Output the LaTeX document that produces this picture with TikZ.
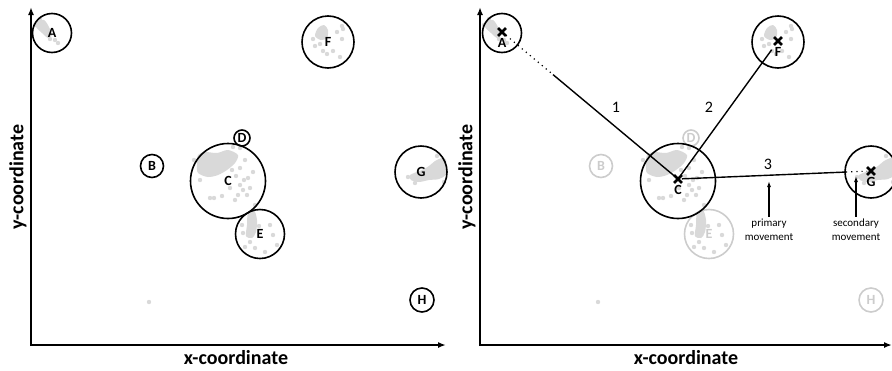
\documentclass[tikz,border=0pt]{standalone}
\usepackage{fontspec}
\setmainfont{Carlito}
\usetikzlibrary{arrows.meta, positioning, calc, shapes.misc}

% gray sample points, same in both panels
\newcommand{\specks}{%
  \fill[speck] plot[smooth cycle] coordinates {(37,22) (44,20) (49,27) (52,35) (48,38) (42,33) (36,27)};
  \foreach \p in {(55,40),(58,43),(50,39),(40,19),(35,25)} \fill[speck] \p circle (2.2);
  \fill[speck] plot[smooth cycle] coordinates {(198,155) (205,152) (217,153) (228,150) (238,155) (235,163) (227,170) (218,175) (208,177) (198,173) (197,165)};
  \foreach \p in {(240,148),(245,160),(253,172),(248,178),(240,185),(243,190),(238,195),(230,188),(235,200),(247,195),(255,205),(222,196),(210,198),(214,198),(236,176),(232,170),(240,168),(194,160),(200,180),(233,147),(244,180),(250,188)} \fill[speck] \p circle (2.2);
  \fill[speck] plot[smooth cycle] coordinates {(248,212) (254,210) (257,220) (256,232) (252,238) (246,236) (247,225)};
  \foreach \p in {(243,233),(245,247),(255,248),(265,252),(270,225),(273,235),(277,245),(242,225),(250,242),(259,226)} \fill[speck] \p circle (2.2);
  \fill[speck] plot[smooth cycle] coordinates {(318,28) (324,25) (328,30) (327,38) (321,40) (315,36)};
  \foreach \p in {(313,39),(315,46),(323,51),(327,54),(333,51),(340,57),(342,39),(343,29),(342,26),(337,32),(320,44)} \fill[speck] \p circle (2.2);
  \fill[speck] plot[smooth cycle] coordinates {(410,175) (422,170) (429,166) (435,161) (442,158) (446,160) (446,174) (439,179) (429,180) (419,182) (411,180)};
  \foreach \p in {(408,177),(415,183),(437,156),(444,182)} \fill[speck] \p circle (2.2);
  \fill[speck] (149,302) circle (2.2);
}

\begin{document}
\begin{tikzpicture}[
  x=0.5pt, y=-0.5pt,
  axis/.style={-{Latex[length=4pt,width=3pt]}, line width=1pt},
  axislabel/.style={font=\fontsize{10}{12}\selectfont\bfseries, inner sep=0pt},
  cluster/.style={circle, draw, line width=0.8pt, inner sep=0pt, font=\fontsize{7}{8}\selectfont\bfseries},
  faded/.style={cluster, draw=black!20, text=black!20},
  letter/.style={font=\fontsize{7}{8}\selectfont\bfseries, inner sep=0pt},
  speck/.style={fill=black!15, draw=none},
  centre/.style={draw, cross out, line width=1.3pt, minimum size=2.6pt, inner sep=0pt},
  link/.style={line width=0.7pt},
  hop/.style={line width=0.6pt, dotted},
  num/.style={font=\fontsize{8}{9}\selectfont, inner sep=0pt},
  note/.style={font=\fontsize{5.5}{7}\selectfont, align=center, inner sep=1pt},
  ptr/.style={-{Latex[length=3pt,width=2pt]}, line width=0.6pt}
]

\useasboundingbox (0,0) rectangle (892,370);

% Left panel
\begin{scope}
\specks
\draw[axis] (31,346) -- (31,7);
\draw[axis] (31,345) -- (446,345);
\node[axislabel] (xlab1) at (236,358) {x-coordinate};
\node[axislabel, rotate=90] (ylab1) at (18,177) {y-coordinate};

\node[cluster, minimum size=19.5pt] (A) at (52,33) {A};
\node[cluster, minimum size=11.5pt] (B) at (152,166) {B};
\node[cluster, minimum size=37.5pt] (C) at (228,181) {C};
\node[cluster, minimum size=8pt] (D) at (242,138) {D};
\node[cluster, minimum size=24.5pt] (E) at (260,234) {E};
\node[cluster, minimum size=26pt] (F) at (328,42) {F};
\node[cluster, minimum size=26pt] (G) at (421,172) {G};
\node[cluster, minimum size=12pt] (H) at (422,300) {H};
\end{scope}

% Right panel
\begin{scope}[shift={(449,0)}]
\specks
\draw[axis] (31,346) -- (31,7);
\draw[axis] (31,345) -- (443,345);
\node[axislabel] (xlab2) at (237,358) {x-coordinate};
\node[axislabel, rotate=90] (ylab2) at (18,177) {y-coordinate};

\node[faded, minimum size=11.5pt] (rB) at (152,166) {B};
\node[faded, minimum size=8pt] (rD) at (242,138) {D};
\node[faded, minimum size=24.5pt] (rE) at (260,234) {E};
\node[faded, minimum size=12pt] (rH) at (422,300) {H};

\node[cluster, minimum size=19.5pt] (rA) at (53,33) {};
\node[cluster, minimum size=37.5pt] (rC) at (229,181) {};
\node[cluster, minimum size=26pt] (rF) at (329,42) {};
\node[cluster, minimum size=26pt] (rG) at (422,172) {};

\node[centre] (xA) at (53,32) {};
\node[centre] (xC) at (229,179) {};
\node[centre] (xF) at (329,41) {};
\node[centre] (xG) at (422,171) {};
\node[letter, below=1pt of xA] (tA) {A};
\node[letter, below=1pt of xC] (tC) {C};
\node[letter, below=1pt of xF] (tF) {F};
\node[letter, below=1pt of xG] (tG) {G};

% Movements
\coordinate (m1) at ($(xA)!0.29!(xC)$);
\coordinate (m3) at ($(xC)!0.87!(xG)$);
\draw[hop] (xA) -- (m1);
\draw[link] (m1) -- (xC);
\draw[link, shorten >=3pt] (xC) -- (xF);
\draw[link] (xC) -- (m3);
\draw[hop] (m3) -- (xG);

\node[num] (n1) at (167,107) {1};
\node[num] (n2) at (260,107) {2};
\node[num] (n3) at (319,164) {3};

\node[note] (pm) at (320,230) {primary\\movement};
\node[note] (sm) at (407,230) {secondary\\movement};
\coordinate (pa) at (320,181);
\coordinate (sa) at (407,176);
\draw[ptr] (pm.north) -- (pa);
\draw[ptr] (sm.north) -- (sa);
\end{scope}

\end{tikzpicture}
\end{document}
